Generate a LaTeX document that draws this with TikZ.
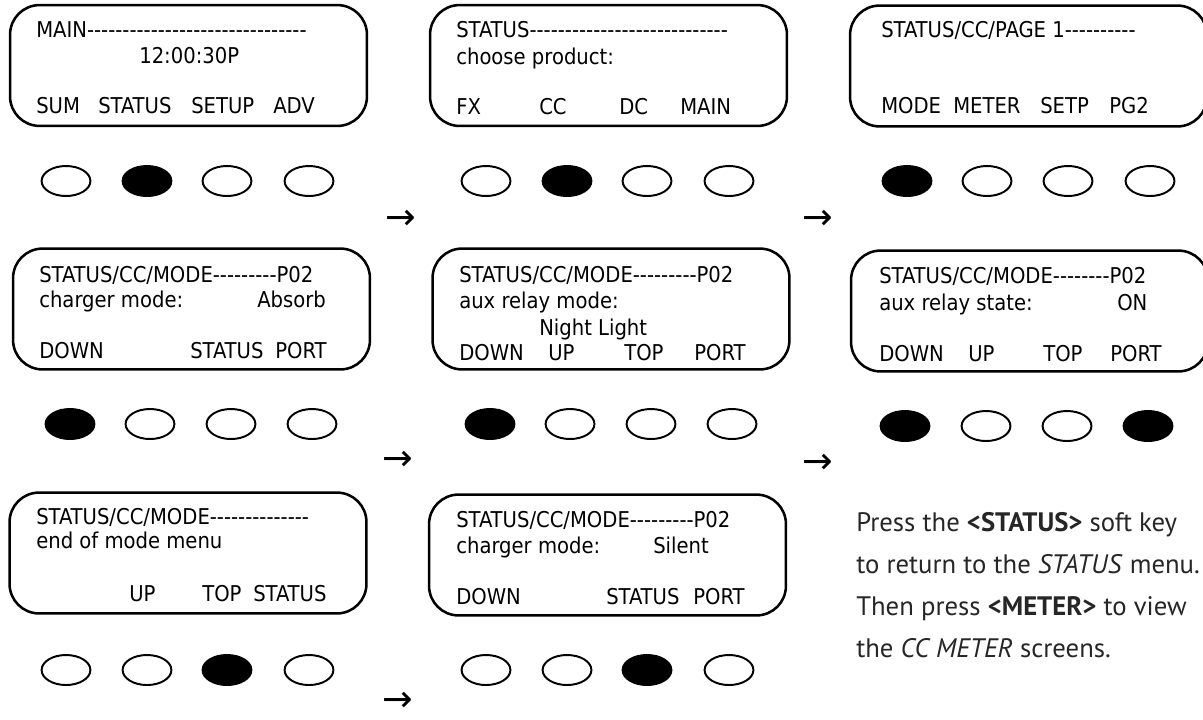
\documentclass[tikz,border=0pt]{standalone}
\usepackage{fontspec}
\usepackage{tikz}
\usetikzlibrary{shapes.geometric}
\setmainfont{PT Sans}
\newfontfamily\lcdfont{DejaVu Sans Condensed}
\newfontfamily\symfont{DejaVu Sans}
\definecolor{ink}{RGB}{0,0,0}
\tikzset{
  lcd/.style={draw=ink, line width=1.8pt, rounded corners=21pt, minimum width=8.92cm, minimum height=3.02cm, inner sep=0pt},
  key/.style={draw=ink, ellipse, line width=1.4pt, fill=#1, minimum width=1.22cm, minimum height=0.75cm, inner sep=0pt},
  key/.default={white},
  lcdtxt/.style={anchor=base west, inner sep=0pt, font=\lcdfont\fontsize{15.5}{18}\selectfont},
  note/.style={anchor=base west, inner sep=0pt, font=\fontsize{19}{22}\selectfont, color=ink!85},
  nextarr/.style={inner sep=0pt, text height=0.5em, text depth=0pt, font=\symfont\fontsize{26}{28}\selectfont}
}
\begin{document}
\begin{tikzpicture}[x=0.025cm, y=-0.025cm]
  \useasboundingbox (0,0) rectangle (1203,719);
  % first row
  \node[lcd] (scrA) at (188.5,65.5) {};
  \node[lcdtxt] (a1) at (36,37) {MAIN-------------------------------};
  \node[lcdtxt] (a2) at (139,63) {12:00:30P};
  \node[lcdtxt] (a3) at (36,113) {SUM};
  \node[lcdtxt] (a4) at (98,113) {STATUS};
  \node[lcdtxt] (a5) at (191,113) {SETUP};
  \node[lcdtxt] (a6) at (273,113) {ADV};
  \foreach \x/\f [count=\i] in {66/white,147/black,227/white,309/white}
    \node[key=\f] (ka\i) at (\x,181) {};
  \node[nextarr] (ar1) at (401,226) {→};

  \node[lcd] (scrB) at (608.5,65.5) {};
  \node[lcdtxt] (b1) at (456,37) {STATUS----------------------------};
  \node[lcdtxt] (b2) at (456,64) {choose product:};
  \node[lcdtxt] (b3) at (456,114) {FX};
  \node[lcdtxt] (b4) at (539,114) {CC};
  \node[lcdtxt] (b5) at (619,114) {DC};
  \node[lcdtxt] (b6) at (680,114) {MAIN};
  \foreach \x/\f [count=\i] in {486/white,567/black,647/white,729/white}
    \node[key=\f] (kb\i) at (\x,181) {};
  \node[nextarr] (ar2) at (818,226) {→};

  \node[lcd] (scrC) at (1028.5,66) {};
  \node[lcdtxt] (c1) at (881,37) {STATUS/CC/PAGE 1----------};
  \node[lcdtxt] (c3) at (881,113) {MODE};
  \node[lcdtxt] (c4) at (953,113) {METER};
  \node[lcdtxt] (c5) at (1040,113) {SETP};
  \node[lcdtxt] (c6) at (1109,113) {PG2};
  \foreach \x/\f [count=\i] in {907/black,987/white,1068/white,1150/white}
    \node[key=\f] (kc\i) at (\x,181) {};

  % second row
  \node[lcd] (scrD) at (191.5,309) {};
  \node[lcdtxt] (d1) at (39,282) {STATUS/CC/MODE---------P02};
  \node[lcdtxt] (d2) at (39,307) {charger mode:};
  \node[lcdtxt] (d3) at (257,307) {Absorb};
  \node[lcdtxt] (d4) at (39,358) {DOWN};
  \node[lcdtxt] (d5) at (190,358) {STATUS};
  \node[lcdtxt] (d6) at (275,358) {PORT};
  \foreach \x/\f [count=\i] in {70/black,150/white,231/white,312/white}
    \node[key=\f] (kd\i) at (\x,424) {};
  \node[nextarr] (ar3) at (398,467) {→};

  \node[lcd] (scrE) at (611,309) {};
  \node[lcdtxt] (e1) at (459,282) {STATUS/CC/MODE---------P02};
  \node[lcdtxt] (e2) at (459,308) {aux relay mode:};
  \node[lcdtxt] (e3) at (539,335) {Night Light};
  \node[lcdtxt] (e4) at (459,360) {DOWN};
  \node[lcdtxt] (e5) at (548,360) {UP};
  \node[lcdtxt] (e6) at (624,360) {TOP};
  \node[lcdtxt] (e7) at (694,360) {PORT};
  \foreach \x/\f [count=\i] in {490/black,570/white,651/white,732/white}
    \node[key=\f] (ke\i) at (\x,424) {};
  \node[nextarr] (ar4) at (818,470) {→};

  \node[lcd] (scrF) at (1029.5,311) {};
  \node[lcdtxt] (f1) at (879,283) {STATUS/CC/MODE--------P02};
  \node[lcdtxt] (f2) at (879,310) {aux relay state:};
  \node[lcdtxt] (f3) at (1117,310) {ON};
  \node[lcdtxt] (f4) at (879,361) {DOWN};
  \node[lcdtxt] (f5) at (968,361) {UP};
  \node[lcdtxt] (f6) at (1043,361) {TOP};
  \node[lcdtxt] (f7) at (1110,361) {PORT};
  \foreach \x/\f [count=\i] in {905/black,986/white,1067/white,1148/black}
    \node[key=\f] (kf\i) at (\x,426) {};

  % third row
  \node[lcd] (scrG) at (188,553) {};
  \node[lcdtxt] (g1) at (36,524) {STATUS/CC/MODE--------------};
  \node[lcdtxt] (g2) at (36,548) {end of mode menu};
  \node[lcdtxt] (g3) at (129,601) {UP};
  \node[lcdtxt] (g4) at (202,601) {TOP};
  \node[lcdtxt] (g5) at (253,601) {STATUS};
  \foreach \x/\f [count=\i] in {66/white,147/white,227/black,309/white}
    \node[key=\f] (kg\i) at (\x,670) {};
  \node[nextarr] (ar5) at (398,708) {→};

  \node[lcd] (scrH) at (607.5,555) {};
  \node[lcdtxt] (h1) at (456,527) {STATUS/CC/MODE---------P02};
  \node[lcdtxt] (h2) at (456,553) {charger mode:};
  \node[lcdtxt] (h3) at (653,553) {Silent};
  \node[lcdtxt] (h4) at (456,604) {DOWN};
  \node[lcdtxt] (h5) at (606,604) {STATUS};
  \node[lcdtxt] (h6) at (693,604) {PORT};
  \foreach \x/\f [count=\i] in {486/white,567/white,647/black,729/white}
    \node[key=\f] (kh\i) at (\x,670) {};

  % note
  \node[note] (n1) at (856,531) {Press the \textbf{<STATUS>} soft key};
  \node[note] (n2) at (856,573) {to return to the \textit{STATUS} menu.};
  \node[note] (n3) at (856,615) {Then press \textbf{<METER>} to view};
  \node[note] (n4) at (856,657) {the \textit{CC METER} screens.};
\end{tikzpicture}
\end{document}
